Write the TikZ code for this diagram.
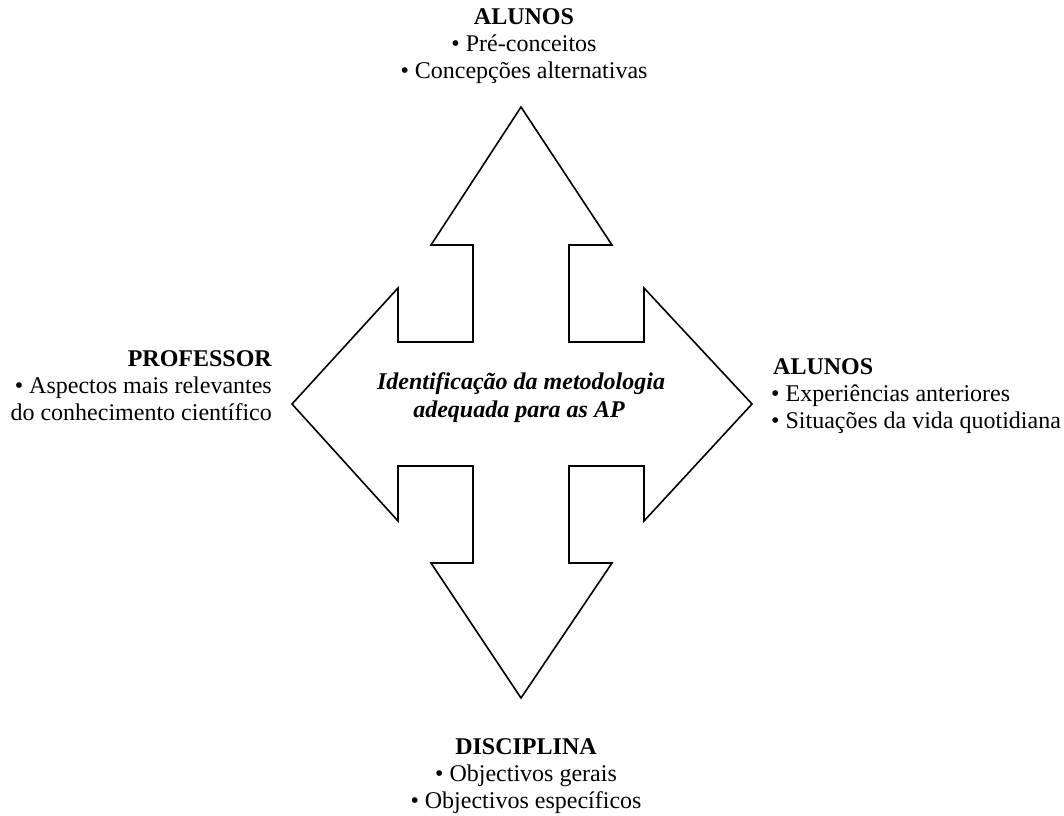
\documentclass[tikz,border=0pt]{standalone}
\usepackage{fontspec}
\setmainfont{Liberation Serif}
\begin{document}
\begin{tikzpicture}[x=1pt,y=-1pt,
  txt/.style={inner sep=0pt,anchor=base,font=\fontsize{24}{27}\selectfont},
  txtl/.style={txt,anchor=base west},
  txtr/.style={txt,anchor=base east},
  cross/.style={draw=black,line width=1.6pt,line join=miter,fill=white}]
\useasboundingbox (0,0) rectangle (1064,815);
% four-way arrow
\draw[cross] (521,107) -- (612,245) -- (569,245) -- (569,342) -- (644,342) -- (644,288)
  -- (752,404) -- (644,521) -- (644,466) -- (569,466) -- (569,563) -- (612,563)
  -- (521,698) -- (431,563) -- (473,563) -- (473,466) -- (398,466) -- (398,521)
  -- (292,404) -- (398,288) -- (398,342) -- (473,342) -- (473,245) -- (431,245) -- cycle;
% centre
\node[txt,font=\fontsize{24}{27}\selectfont\bfseries\itshape] (c1) at (521,389) {Identificação da metodologia};
\node[txt,font=\fontsize{24}{27}\selectfont\bfseries\itshape] (c2) at (519,417) {adequada para as AP};
% top
\node[txt,font=\fontsize{24}{27}\selectfont\bfseries] (t1) at (524,24) {ALUNOS};
\node[txt] (t2) at (524,51) {• Pré-conceitos};
\node[txt] (t3) at (524,78) {• Concepções alternativas};
% bottom
\node[txt,font=\fontsize{24}{27}\selectfont\bfseries] (b1) at (526,754) {DISCIPLINA};
\node[txt] (b2) at (526,781) {• Objectivos gerais};
\node[txt] (b3) at (526,808) {• Objectivos específicos};
% left
\node[txtr,font=\fontsize{24}{27}\selectfont\bfseries] (l1) at (272,366) {PROFESSOR};
\node[txtr] (l2) at (272,393) {• Aspectos mais relevantes};
\node[txtr] (l3) at (272,420) {do conhecimento científico};
% right
\node[txtl,font=\fontsize{24}{27}\selectfont\bfseries] (r1) at (773,374) {ALUNOS};
\node[txtl] (r2) at (771,401) {• Experiências anteriores};
\node[txtl] (r3) at (771,428) {• Situações da vida quotidiana};
\end{tikzpicture}
\end{document}
